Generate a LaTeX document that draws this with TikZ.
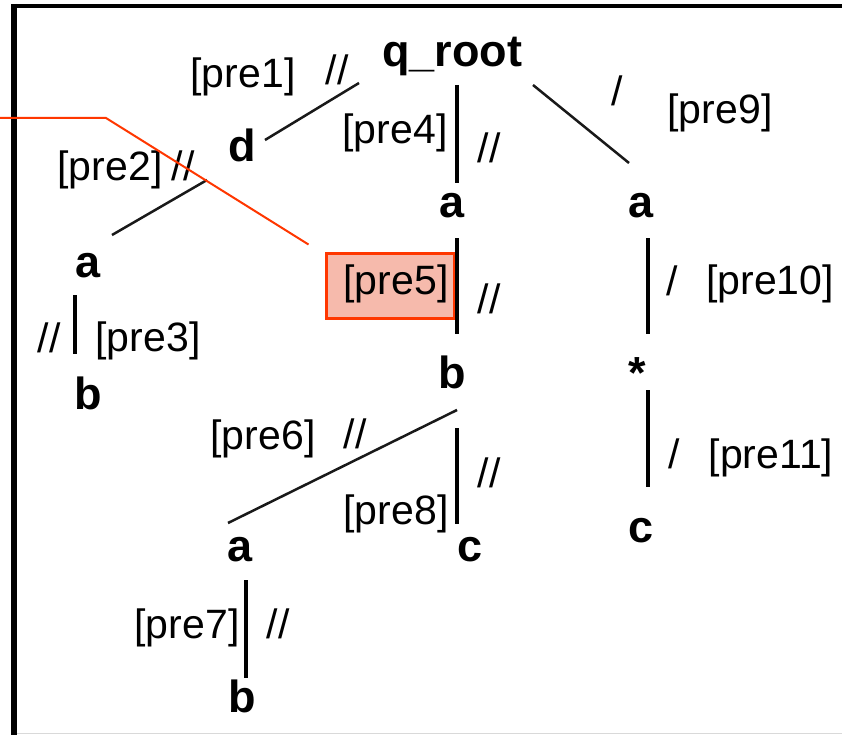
\documentclass[tikz,border=0pt]{standalone}
\usepackage{fontspec}
\setmainfont{Liberation Sans}
\usetikzlibrary{calc}
\definecolor{hilite}{RGB}{255,55,0}
\definecolor{hilitefill}{RGB}{246,186,172}
\tikzset{
  tnode/.style={anchor=base, inner sep=0pt, font=\fontsize{45}{45}\selectfont\bfseries},
  tlabel/.style={anchor=base, inner sep=0pt, font=\fontsize{41}{41}\selectfont},
  axis/.style={anchor=base, inner sep=0pt, font=\fontsize{41}{41}\selectfont},
  vedge/.style={line width=3.8pt, black},
  dedge/.style={line width=2.5pt, black!90},
  redline/.style={line width=2pt, hilite},
  markbox/.style={draw=hilite, line width=3pt, fill=hilitefill, inner sep=0pt,
                  minimum width=128pt, minimum height=65pt},
}
\begin{document}
\begin{tikzpicture}[x=1pt, y=-1pt]
  \useasboundingbox (0,0) rectangle (842,735);
  \fill[white] (0,0) rectangle (842,735);

  % frame
  \draw[line width=4pt] (11.5,6) -- (842,6);
  \draw[line width=5.5pt] (14,4) -- (14,735);
  \draw[line width=1pt, black!15] (17,733.5) -- (842,733.5);

  % highlighted predicate box
  \node[markbox] (hl) at (390,285.5) {};

  % tree nodes
  \node[tnode] (qr) at (452,67)  {q\_root};
  \node[tnode] (d)  at (242,162) {d};
  \node[tnode] (al) at (88,277)  {a};
  \node[tnode] (bl) at (88,409)  {b};
  \node[tnode] (am) at (452,218) {a};
  \node[tnode] (bm) at (452,388) {b};
  \node[tnode] (aL) at (240,561) {a};
  \node[tnode] (bb) at (242,712) {b};
  \node[tnode] (cm) at (470,561) {c};
  \node[tnode] (ar) at (641,218) {a};
  \node[tnode] (st) at (637,388) {*};
  \node[tnode] (cr) at (641,542) {c};

  % edges
  \draw[dedge] ($(qr.base)+(-93,16)$) -- ($(d.base)+(23,-22)$);
  \draw[dedge] ($(d.base)+(-35,18)$) -- ($(al.base)+(24,-42)$);
  \draw[vedge] ($(al.base)+(-13,18)$) -- ($(bl.base)+(-13,-55)$);
  \draw[vedge] ($(qr.base)+(5,18)$) -- ($(am.base)+(5,-35)$);
  \draw[vedge] ($(am.base)+(5,20)$) -- ($(bm.base)+(5,-54)$);
  \draw[dedge] ($(bm.base)+(5,22)$) -- ($(aL.base)+(-12,-38)$);
  \draw[vedge] ($(bm.base)+(5,40)$) -- ($(cm.base)+(-13,-37)$);
  \draw[vedge] ($(aL.base)+(6,19)$) -- ($(bb.base)+(4,-34)$);
  \draw[dedge] ($(qr.base)+(81,18)$) -- ($(ar.base)+(-12,-55)$);
  \draw[vedge] ($(ar.base)+(7,20)$) -- ($(st.base)+(11,-54)$);
  \draw[vedge] ($(st.base)+(11,2)$) -- ($(cr.base)+(7,-55)$);

  % predicate labels
  \node[tlabel] (p1)  at (243,88)  {[pre1]};
  \node[tlabel] (p2)  at (110,181) {[pre2]};
  \node[tlabel] (p3)  at (148,351) {[pre3]};
  \node[tlabel] (p4)  at (395,144) {[pre4]};
  \node[tlabel] (p5)  at (396,294) {[pre5]};
  \node[tlabel] (p6)  at (263,449) {[pre6]};
  \node[tlabel] (p7)  at (187,638) {[pre7]};
  \node[tlabel] (p8)  at (396,524) {[pre8]};
  \node[tlabel] (p9)  at (720,124) {[pre9]};
  \node[tlabel] (p10) at (770,294) {[pre10]};
  \node[tlabel] (p11) at (771,468) {[pre11]};

  % axis labels
  \node[axis] (x1)  at (337,85)  {//};
  \node[axis] (x2)  at (183,181) {//};
  \node[axis] (x3)  at (49,352)  {//};
  \node[axis] (x4)  at (489,163) {//};
  \node[axis] (x5)  at (489,313) {//};
  \node[axis] (x6)  at (355,448) {//};
  \node[axis] (x7)  at (278,638) {//};
  \node[axis] (x8)  at (489,487) {//};
  \node[axis] (x9)  at (617,106) {/};
  \node[axis] (x10) at (672,295) {/};
  \node[axis] (x11) at (674,468) {/};

  % pointer to the highlighted box
  \coordinate (lead) at (0,118);
  \coordinate (bend) at (106,118);
  \draw[redline] (lead) -- (bend) -- ($(hl.north west)+(-16,-7)$);
\end{tikzpicture}
\end{document}
